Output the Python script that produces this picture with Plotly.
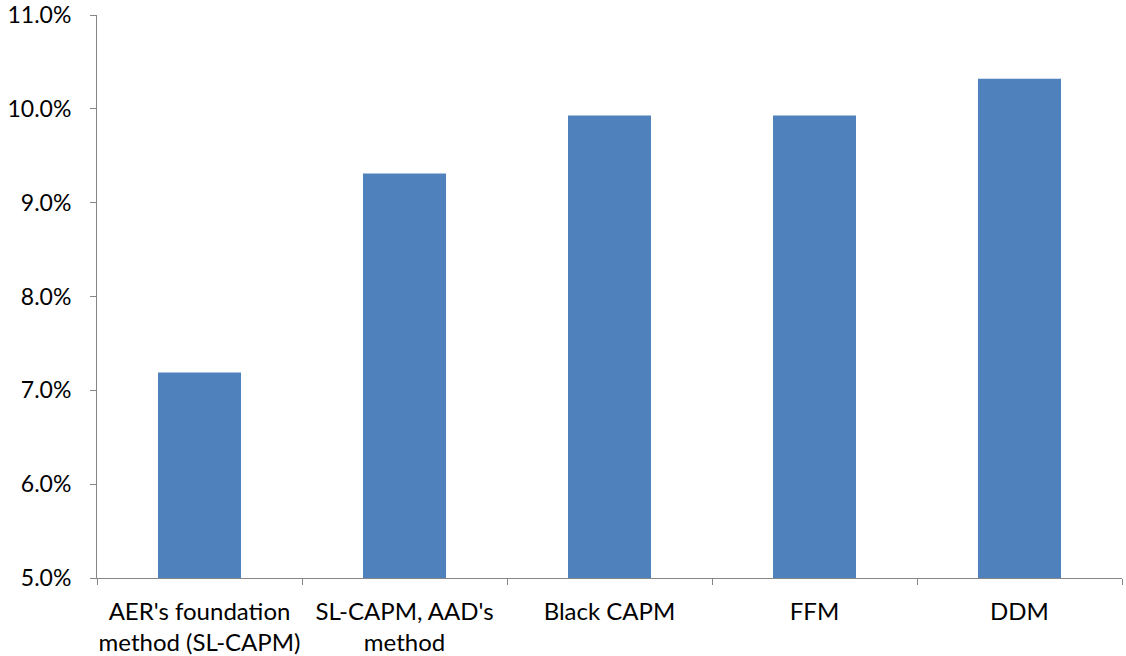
import plotly.graph_objects as go

categories = ["AER's foundation<br>method (SL-CAPM)", "SL-CAPM, AAD's<br>method", "Black CAPM", "FFM", "DDM"]
values = [0.0719, 0.0931, 0.0993, 0.0993, 0.1032]
y_ticks = [0.05, 0.06, 0.07, 0.08, 0.09, 0.10, 0.11]

fig = go.Figure(go.Bar(x=categories, y=values, marker=dict(color="#4F81BD", line=dict(width=0))))

font = dict(family="Lato, 'Open Sans', sans-serif", size=23, color="#000000")
xfont = dict(family="Lato, 'Open Sans', sans-serif", size=24, color="#000000")
fig.update_layout(
    width=1126, height=656,
    margin=dict(l=97, r=4, t=15, b=78, autoexpand=False),
    paper_bgcolor="white", plot_bgcolor="white",
    bargap=0.595,
    showlegend=False,
    font=font,
)
fig.update_xaxes(
    type="category", showline=True, linecolor="#868686", linewidth=1,
    ticks="outside", tickson="boundaries", ticklen=6, tickcolor="#868686",
    showgrid=False, tickfont=xfont, automargin=False, ticklabelstandoff=12,
    tickangle=0, ticklabeloverflow="allow",
)
fig.update_yaxes(
    range=[0.05, 0.11], tickvals=y_ticks, tickformat=".1%",
    showline=True, linecolor="#868686", linewidth=1,
    ticks="outside", ticklen=6, tickcolor="#868686",
    showgrid=False, zeroline=False, tickfont=font, automargin=False,
    ticklabelstandoff=14, ticklabeloverflow="allow",
)
fig.write_html(
    "out.html",
    config={"displayModeBar": False},
    post_script="document.body.style.margin='0';document.body.style.overflow='hidden';",
)
